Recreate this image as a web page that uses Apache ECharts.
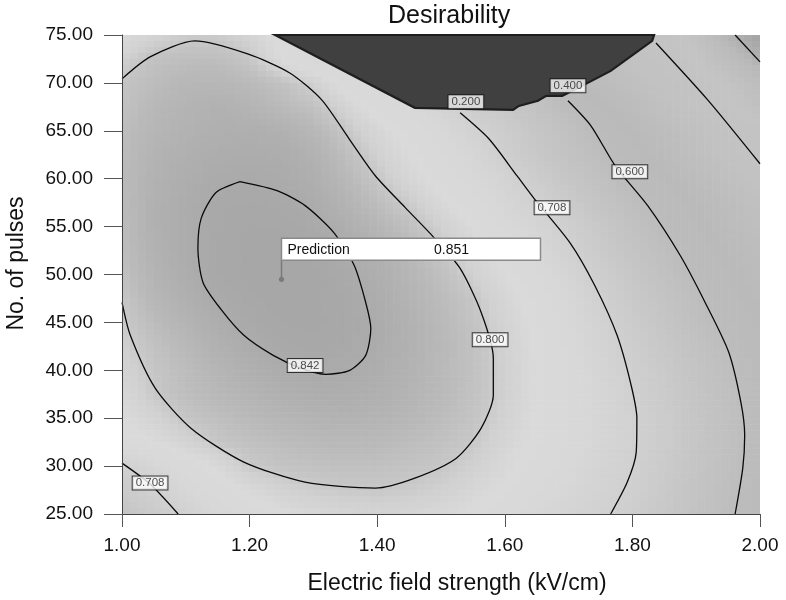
<!DOCTYPE html>
<html>
<head>
<meta charset="utf-8">
<script src="https://cdn.jsdelivr.net/npm/echarts@6/dist/echarts.min.js"></script>
<style>
html,body{margin:0;padding:0;background:#ffffff;}
#chart{width:786px;height:600px;}
</style>
</head>
<body>
<div id="chart"></div>
<script>
// ---------------- DATA ----------------
const chartTitle = 'Desirability';
const xAxisName = 'Electric field strength (kV/cm)';
const yAxisName = 'No. of pulses';

// grid of desirability values: columns = field strength, rows = pulses (top to bottom)
const xValues = [1.00,1.05,1.10,1.15,1.20,1.25,1.30,1.35,1.40,1.45,1.50,1.55,1.60,1.65,1.70,1.75,1.80,1.85,1.90,1.95,2.00];
const yValues = [75,72.5,70,67.5,65,62.5,60,57.5,55,52.5,50,47.5,45,42.5,40,37.5,35,32.5,30,27.5,25];
const desirability = [
  [0.77,0.785,0.795,0.795,0.785,0.76,0,0,0,0,0,0,0,0,0,0,0.42,0.38,0.32,0.22,0.16],
  [0.79,0.805,0.81,0.81,0.80,0.77,0.74,0.72,0,0,0,0,0,0,0,0.50,0.45,0.41,0.35,0.28,0.21],
  [0.802,0.812,0.82,0.82,0.815,0.805,0.79,0.76,0.74,0,0,0,0,0,0.57,0.52,0.48,0.44,0.40,0.34,0.28],
  [0.805,0.818,0.825,0.83,0.825,0.815,0.805,0.785,0.76,0.74,0.72,0.69,0.67,0.64,0.60,0.56,0.52,0.47,0.42,0.37,0.31],
  [0.81,0.822,0.828,0.832,0.834,0.83,0.82,0.80,0.78,0.76,0.74,0.715,0.69,0.66,0.63,0.59,0.55,0.51,0.47,0.42,0.38],
  [0.812,0.826,0.832,0.837,0.839,0.837,0.829,0.81,0.79,0.77,0.75,0.73,0.70,0.67,0.64,0.61,0.57,0.53,0.49,0.44,0.40],
  [0.813,0.828,0.836,0.841,0.843,0.841,0.834,0.818,0.80,0.78,0.76,0.74,0.72,0.69,0.66,0.63,0.59,0.56,0.52,0.48,0.44],
  [0.813,0.83,0.838,0.845,0.847,0.845,0.839,0.826,0.81,0.795,0.775,0.755,0.73,0.71,0.68,0.65,0.615,0.58,0.55,0.51,0.47],
  [0.812,0.83,0.839,0.846,0.849,0.849,0.844,0.835,0.822,0.808,0.79,0.77,0.745,0.725,0.70,0.67,0.635,0.595,0.56,0.525,0.49],
  [0.81,0.828,0.839,0.846,0.85,0.851,0.848,0.84,0.829,0.816,0.80,0.78,0.76,0.74,0.71,0.68,0.65,0.615,0.58,0.545,0.51],
  [0.806,0.825,0.837,0.846,0.85,0.851,0.85,0.844,0.835,0.822,0.808,0.79,0.77,0.75,0.725,0.695,0.665,0.63,0.595,0.56,0.525],
  [0.80,0.82,0.832,0.842,0.848,0.851,0.85,0.846,0.838,0.826,0.813,0.80,0.78,0.76,0.735,0.705,0.675,0.645,0.61,0.575,0.54],
  [0.795,0.812,0.825,0.836,0.844,0.849,0.85,0.847,0.84,0.829,0.816,0.803,0.785,0.765,0.74,0.715,0.685,0.655,0.62,0.59,0.555],
  [0.79,0.805,0.818,0.83,0.839,0.845,0.848,0.846,0.84,0.83,0.818,0.806,0.788,0.768,0.745,0.72,0.695,0.665,0.635,0.605,0.57],
  [0.785,0.80,0.812,0.823,0.832,0.839,0.843,0.842,0.837,0.828,0.817,0.806,0.79,0.77,0.748,0.725,0.70,0.675,0.645,0.615,0.58],
  [0.778,0.798,0.81,0.818,0.825,0.832,0.836,0.837,0.833,0.826,0.816,0.805,0.79,0.77,0.75,0.73,0.705,0.68,0.65,0.62,0.585],
  [0.77,0.785,0.801,0.809,0.816,0.822,0.826,0.828,0.826,0.82,0.812,0.803,0.787,0.768,0.748,0.728,0.71,0.685,0.655,0.625,0.59],
  [0.755,0.77,0.785,0.80,0.807,0.812,0.816,0.818,0.817,0.812,0.806,0.798,0.782,0.765,0.746,0.727,0.71,0.685,0.655,0.625,0.59],
  [0.705,0.73,0.755,0.775,0.797,0.803,0.806,0.808,0.807,0.804,0.80,0.79,0.775,0.758,0.74,0.722,0.707,0.68,0.65,0.62,0.585],
  [0.68,0.71,0.735,0.757,0.775,0.787,0.794,0.797,0.798,0.796,0.79,0.78,0.766,0.75,0.733,0.718,0.704,0.675,0.645,0.615,0.58],
  [0.65,0.68,0.712,0.735,0.755,0.768,0.777,0.782,0.784,0.782,0.776,0.766,0.752,0.737,0.722,0.711,0.695,0.668,0.64,0.61,0.575]
];

// contour lines [field strength, pulses]
const contour0842 = [[1.185,59.69],[1.243,58.75],[1.287,57.19],[1.332,54.38],[1.364,50.94],[1.382,47.08],[1.390,44.38],[1.382,41.56],[1.357,40.00],[1.320,39.58],[1.281,40.21],[1.237,41.56],[1.191,43.65],[1.154,46.46],[1.127,49.17],[1.119,52.71],[1.124,55.83],[1.147,58.54],[1.185,59.69]];
const contour0800 = [[1.000,70.42],[1.044,72.71],[1.114,74.38],[1.197,73.02],[1.263,71.04],[1.313,68.23],[1.357,64.06],[1.397,60.31],[1.444,56.98],[1.489,53.85],[1.530,50.63],[1.563,46.04],[1.582,41.25],[1.582,37.40],[1.563,33.96],[1.524,30.83],[1.459,28.75],[1.397,27.71],[1.287,28.33],[1.191,30.42],[1.108,33.96],[1.052,38.13],[1.013,43.65],[1.000,47.08]];
const contour0708 = [[1.530,66.88],[1.575,64.17],[1.619,60.31],[1.646,57.92],[1.702,53.33],[1.741,48.85],[1.776,43.65],[1.798,38.44],[1.807,35.00],[1.806,31.46],[1.792,28.33],[1.766,25.00]];
const contour0708Corner = [[1.000,30.31],[1.044,28.13],[1.088,25.00]];
const contour0600 = [[1.699,68.13],[1.735,65.52],[1.773,61.35],[1.824,57.19],[1.875,51.98],[1.914,47.08],[1.951,41.88],[1.970,36.67],[1.976,33.23],[1.973,29.79],[1.961,25.00]];
const contour0400 = [[1.837,74.17],[1.918,68.23],[2.000,61.56]];
const contour0200 = [[1.961,75.00],[2.000,72.19]];

// undesirable (zero) region at the top
const zeroRegion = [[1.240,75.0],[1.459,67.40],[1.613,67.19],[1.622,67.60],[1.652,68.13],[1.665,68.65],[1.690,68.65],[1.721,69.69],[1.766,71.25],[1.831,74.38],[1.834,75.0]];

// contour labels [x, y, text]
const contourLabels = [
  [1.539,68.02,'0.200'],
  [1.699,69.69,'0.400'],
  [1.796,60.73,'0.600'],
  [1.674,56.98,'0.708'],
  [1.577,43.20,'0.800'],
  [1.287,40.50,'0.842'],
  [1.044,28.23,'0.708']
];

// prediction flag [x, y, desirability]
const prediction = [[1.25,49.5,0.851]];
const predictionLabel = 'Prediction';

// ---------------- STYLE ----------------
const FONT = '"Liberation Sans", Arial, Helvetica, sans-serif';
const grayStops = [[0,64],[0.05,112],[0.15,160],[0.25,186],[0.35,196],[0.45,194],[0.55,186],[0.6,188],[0.66,198],[0.7,207],[0.74,216],[0.77,218],[0.79,209],[0.8,198],[0.815,186],[0.83,177],[0.845,169],[0.86,163]];
function grayOf(v){
  let g = grayStops[grayStops.length-1][1];
  if (v <= grayStops[0][0]) g = grayStops[0][1];
  for (let i=0;i<grayStops.length-1;i++){
    const a=grayStops[i], b=grayStops[i+1];
    if (v>=a[0] && v<=b[0]) { g = a[1] + (b[1]-a[1])*(v-a[0])/(b[0]-a[0]); break; }
  }
  g = Math.round(g);
  return 'rgb('+g+','+g+','+g+')';
}

const cells = [];
yValues.forEach((y, r) => xValues.forEach((x, c) => cells.push([x, y, desirability[r][c], c, r])));
const halfX = (xValues[1]-xValues[0])/2;
const halfY = (yValues[0]-yValues[1])/2;
const SUB = 4; // each grid cell is shaded in SUB x SUB tiles (smooth shading, like the original renderer)

function valueAt(r, c, own){
  r = Math.max(0, Math.min(yValues.length-1, r));
  c = Math.max(0, Math.min(xValues.length-1, c));
  const v = desirability[r][c];
  return v === 0 ? own : v;   // zero region is painted separately
}
function shadeAt(cc, rr, own){
  const c0 = Math.floor(cc), r0 = Math.floor(rr);
  const tc = cc - c0, tr = rr - r0;
  const a = valueAt(r0, c0, own), b = valueAt(r0, c0+1, own);
  const d = valueAt(r0+1, c0, own), e = valueAt(r0+1, c0+1, own);
  return (a*(1-tc)+b*tc)*(1-tr) + (d*(1-tc)+e*tc)*tr;
}

function contourSeries(data){
  return {type:'line', data:data, showSymbol:false, symbol:'none', smooth:0.25, silent:true, z:4,
    lineStyle:{color:'#0a0a0a', width:1.3}, clip:true};
}

const chart = echarts.init(document.getElementById('chart'), null, {renderer:'canvas'});
const option = {
  animation:false,
  backgroundColor:'#ffffff',
  textStyle:{fontFamily:FONT},
  title:{text:chartTitle, left:383, top:-1, textStyle:{fontSize:25, fontWeight:'normal', color:'#111', fontFamily:FONT}},
  grid:{left:122, right:26, top:35, bottom:86, containLabel:false, outerBoundsMode:'none'},
  xAxis:{type:'value', min:1, max:2, interval:0.2, z:10,
    name:xAxisName, nameLocation:'middle', nameGap:58,
    nameTextStyle:{fontSize:23, color:'#111', fontFamily:FONT, padding:[0,0,0,32]},
    axisLine:{show:true, lineStyle:{color:'#444', width:1}},
    axisTick:{show:true, length:13, lineStyle:{color:'#555', width:1}},
    axisLabel:{fontSize:19, color:'#111', margin:22, fontFamily:FONT, formatter:v=>v.toFixed(2)},
    splitLine:{show:false}},
  yAxis:{type:'value', min:25, max:75, interval:5, z:10,
    name:yAxisName, nameLocation:'middle', nameGap:94, nameRotate:90,
    nameTextStyle:{fontSize:23, color:'#111', fontFamily:FONT, padding:[0,0,0,22]},
    axisLine:{show:true, lineStyle:{color:'#444', width:1}},
    axisTick:{show:true, length:18, lineStyle:{color:'#555', width:1}},
    axisLabel:{fontSize:19, color:'#111', margin:29, fontFamily:FONT, formatter:v=>v.toFixed(2)},
    splitLine:{show:false}},
  series:[
    {type:'custom', silent:true, z:1, data:cells, encode:{x:0,y:1},
     renderItem:function(params, api){
       const x=api.value(0), y=api.value(1), v=api.value(2), col=api.value(3), row=api.value(4);
       const cs=params.coordSys;
       const bound={x:cs.x, y:cs.y, width:cs.width, height:cs.height};
       const children=[];
       for(let i=0;i<SUB;i++){
         for(let j=0;j<SUB;j++){
           const fx0=-0.5+i/SUB, fx1=-0.5+(i+1)/SUB;
           const fy0=-0.5+j/SUB, fy1=-0.5+(j+1)/SUB;
           const p1=api.coord([x+2*halfX*fx0, y-2*halfY*fy0]);
           const p2=api.coord([x+2*halfX*fx1, y-2*halfY*fy1]);
           const rect=echarts.graphic.clipRectByRect(
             {x:p1[0], y:p1[1], width:p2[0]-p1[0]+0.6, height:p2[1]-p1[1]+0.6}, bound);
           if(!rect) continue;
           const sv = v===0 ? 0 : shadeAt(col+(fx0+fx1)/2, row+(fy0+fy1)/2, v);
           children.push({type:'rect', shape:rect, style:{fill:grayOf(sv)}});
         }
       }
       return {type:'group', children:children};
     }},
    {type:'custom', silent:true, z:3, data:zeroRegion, encode:{x:0,y:1},
     renderItem:function(params, api){
       if(params.dataIndex!==0) return null;
       const pts=zeroRegion.map(p=>api.coord(p));
       return {type:'polygon', shape:{points:pts}, style:{fill:'#404040', stroke:'#1e1e1e', lineWidth:2.2}};
     }},
    contourSeries(contour0842),
    contourSeries(contour0800),
    contourSeries(contour0708),
    contourSeries(contour0708Corner),
    contourSeries(contour0600),
    contourSeries(contour0400),
    contourSeries(contour0200),
    {type:'scatter', silent:true, z:6, data:contourLabels, symbolSize:1,
     itemStyle:{color:'rgba(0,0,0,0)'},
     label:{show:true, position:'inside', formatter:p=>p.value[2], fontSize:11.5, color:'#222', fontFamily:FONT,
       backgroundColor:'#ffffff', borderColor:'#111', borderWidth:1, padding:[1,3,0,3]}},
    {type:'custom', silent:true, z:7, data:prediction, encode:{x:0,y:1},
     renderItem:function(params, api){
       const p=api.coord([api.value(0), api.value(1)]);
       const val=api.value(2);
       const boxW=259, boxH=22, stem=19;
       const top=p[1]-stem-boxH;
       return {type:'group', children:[
         {type:'line', shape:{x1:p[0], y1:p[1], x2:p[0], y2:p[1]-stem}, style:{stroke:'#7a7a7a', lineWidth:1.5}},
         {type:'circle', shape:{cx:p[0], cy:p[1], r:2.6}, style:{fill:'#7a7a7a'}},
         {type:'rect', shape:{x:p[0], y:top, width:boxW, height:boxH}, style:{fill:'#ffffff', stroke:'#8a8a8a', lineWidth:1.5}},
         {type:'text', x:p[0]+6, y:top+boxH/2+1, style:{text:predictionLabel, fill:'#111', font:'14px '+FONT, verticalAlign:'middle'}},
         {type:'text', x:p[0]+170, y:top+boxH/2+1, style:{text:val.toFixed(3), fill:'#111', font:'14px '+FONT, align:'center', verticalAlign:'middle'}}
       ]};
     }}
  ]
};
chart.setOption(option);
</script>
</body>
</html>
